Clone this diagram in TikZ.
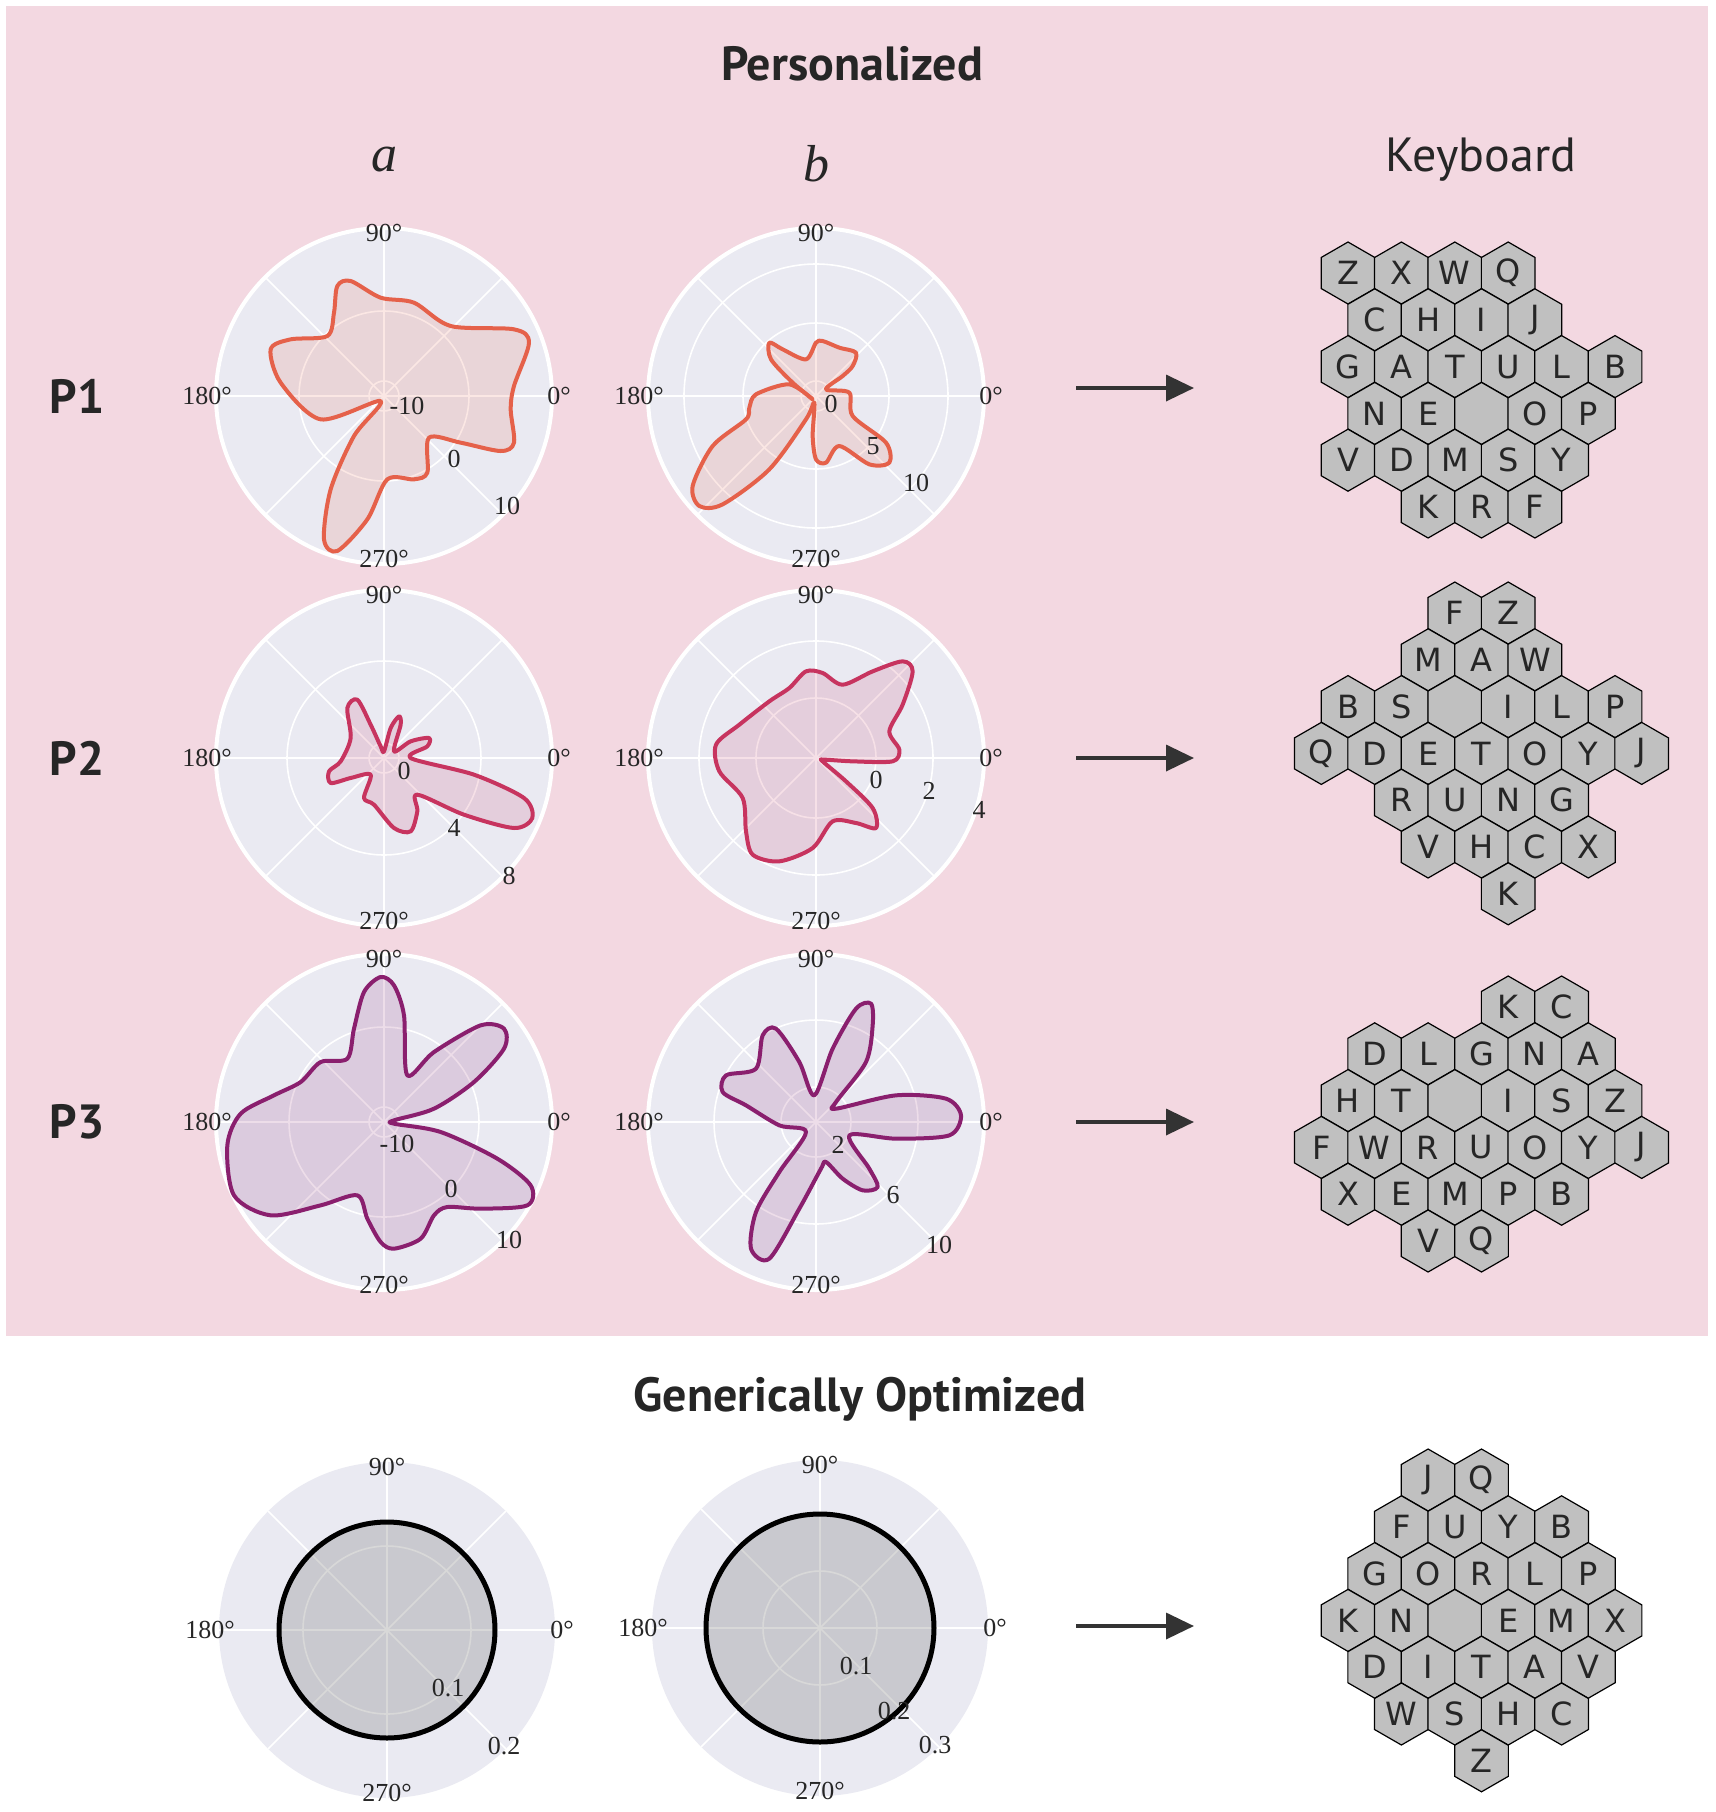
\documentclass[tikz,border=0pt]{standalone}
\usepackage{fontspec}
\setmainfont{Liberation Serif}
\newfontfamily\titlefont{PT Sans}
\newfontfamily\keyfont{DejaVu Sans}
\usetikzlibrary{shapes.geometric,arrows.meta}
\definecolor{pinkbg}{HTML}{F3D8E1}
\definecolor{axbg}{HTML}{EAEAF2}
\definecolor{cone}{HTML}{E5614A}
\definecolor{ctwo}{HTML}{C7345F}
\definecolor{cthree}{HTML}{8A1F6E}
\definecolor{keygray}{HTML}{C0C0C0}
\tikzset{
  hexkey/.style={regular polygon, regular polygon sides=6, shape border rotate=30,
    minimum size=31pt, inner sep=0pt, draw=black, line width=0.6pt, fill=keygray,
    font=\keyfont\fontsize{16}{16}\selectfont, text=black!85},
  tick/.style={font=\fontsize{13}{13}\selectfont, text=black!85, inner sep=0pt},
  rlab/.style={font=\fontsize{13}{13}\selectfont, text=black!85, inner sep=0pt},
  blob/.style={line width=2pt, line join=round},
  bigarrow/.style={line width=1.8pt, draw=black!80, -{Triangle[length=14pt,width=13pt]}},
  rowlab/.style={font=\titlefont\bfseries\fontsize{24}{24}\selectfont, text=black!85},
  coltitle/.style={font=\titlefont\fontsize{24}{24}\selectfont, text=black!85},
}
\newcommand{\polarbg}[2]{% rings, outer ring drawn?
  \fill[axbg] (0,0) circle (168);
  \foreach \a in {0,45,...,315} \draw[white, line width=0.8pt] (0,0) -- (\a:168);
  \foreach \r in {#1} \draw[white, line width=0.8pt] (0,0) circle (\r);
  #2
  \node[tick] (t90) at (0,163) {90°};
  \node[tick] (t270) at (0,-163) {270°};
  \node[tick] (t180) at (-177,0) {180°};
  \node[tick] (t0) at (175,0) {0°};
}
\begin{document}
\begin{tikzpicture}[x=0.5pt,y=-0.5pt]
\useasboundingbox (0,0) rectangle (1716,1812);
\fill[white] (0,0) rectangle (1716,1812);
\fill[pinkbg] (6,6) rectangle (1708,1336);

\node[font=\titlefont\bfseries\fontsize{24}{24}\selectfont, text=black!85] (ttl) at (852,64) {Personalized};
\node[font=\itshape\fontsize{26}{26}\selectfont, text=black!85] (ca) at (384,160) {a};
\node[font=\itshape\fontsize{26}{26}\selectfont, text=black!85] (cb) at (816,164) {b};
\node[coltitle] (ck) at (1481,160) {Keyboard};
\node[rowlab] (p1) at (77,396) {P1};
\node[rowlab] (p2) at (77,758) {P2};
\node[rowlab] (p3) at (77,1122) {P3};
\node[font=\titlefont\bfseries\fontsize{24}{24}\selectfont, text=black!85] (gen) at (860,1399) {Generically Optimized};

% ---------- P1a
\begin{scope}[shift={(384,396)}, yscale=-1]
\polarbg{15,85}{\draw[white,line width=2pt] (0,0) circle (168);}
\begin{scope}[scale=1/3]
\draw[blob, draw=cone, fill=cone, fill opacity=0.15] plot[smooth cycle] coordinates {
(-10,-15) (-190,-70) (-310,40) (-340,140) (-280,170) (-170,180) (-150,250) (-140,330) (-100,345)
(-10,295) (90,280) (200,210) (390,200) (435,160) (390,30) (380,-40) (390,-140) (350,-165)
(230,-140) (135,-125) (130,-230) (90,-250) (10,-250) (-50,-370) (-140,-465) (-180,-430) (-160,-280) (-90,-120)};
\end{scope}
\node[rlab] at (23,-10) {-10};
\node[rlab] at (70,-63) {0};
\node[rlab] at (123,-110) {10};
\end{scope}
% ---------- P1b
\begin{scope}[shift={(816,396)}, yscale=-1]
\polarbg{15,73,132}{\draw[white,line width=2pt] (0,0) circle (168);}
\begin{scope}[scale=1/3]
\draw[blob, draw=cone, fill=cone, fill opacity=0.15] plot[smooth cycle] coordinates {
(-10,-10) (-80,35) (-180,5) (-200,-35) (-210,-70) (-310,-150) (-370,-270) (-350,-330) (-280,-325)
(-140,-220) (-30,-70) (-5,-20) (-10,-120) (0,-190) (30,-200) (70,-150) (160,-205) (220,-200)
(210,-140) (110,-60) (100,10) (30,20) (80,60) (110,90) (120,130) (70,145) (20,165) (0,160)
(-30,110) (-100,140) (-140,160) (-135,110) (-70,40)};
\end{scope}
\node[rlab] at (15,-8) {0};
\node[rlab] at (57,-50) {5};
\node[rlab] at (100,-87) {10};
\end{scope}
% ---------- P2a
\begin{scope}[shift={(384,758)}, yscale=-1]
\polarbg{15,97}{\draw[white,line width=2pt] (0,0) circle (168);}
\begin{scope}[scale=1/3]
\draw[blob, draw=ctwo, fill=ctwo, fill opacity=0.15] plot[smooth cycle] coordinates {
(-10,35) (-40,100) (-80,175) (-110,150) (-100,60) (-130,-10) (-165,-40) (-160,-75) (-100,-60)
(-40,-50) (-60,-120) (-30,-140) (30,-210) (80,-220) (100,-160) (100,-110) (240,-170) (390,-210)
(445,-180) (420,-120) (270,-50) (80,0) (130,35) (135,60) (80,50) (30,20) (50,100) (45,125) (20,90) (0,20)};
\end{scope}
\node[rlab] at (20,-13) {0};
\node[rlab] at (70,-70) {4};
\node[rlab] at (125,-118) {8};
\end{scope}
% ---------- P2b
\begin{scope}[shift={(816,758)}, yscale=-1]
\polarbg{60,117}{\draw[white,line width=2pt] (0,0) circle (168);}
\begin{scope}[scale=1/3]
\draw[blob, draw=ctwo, fill=ctwo, fill opacity=0.15] plot[smooth cycle] coordinates {
(20,-10) (90,-70) (170,-150) (180,-210) (120,-195) (50,-190) (-10,-270) (-110,-310) (-190,-290)
(-210,-220) (-220,-120) (-290,-40) (-300,40) (-230,100) (-140,170) (-80,210) (-30,260) (20,255)
(80,220) (170,260) (260,290) (290,260) (260,160) (220,80) (250,25) (230,-10) (110,-10) (25,-5)};
\end{scope}
\node[rlab] at (60,-22) {0};
\node[rlab] at (113,-33) {2};
\node[rlab] at (163,-52) {4};
\end{scope}
% ---------- P3a
\begin{scope}[shift={(384,1122)}, yscale=-1]
\polarbg{15,95}{\draw[white,line width=2pt] (0,0) circle (168);}
\begin{scope}[scale=1/3]
\draw[blob, draw=cthree, fill=cthree, fill opacity=0.15] plot[smooth cycle] coordinates {
(30,-5) (170,-30) (340,-110) (440,-190) (430,-250) (290,-260) (190,-255) (150,-280) (110,-350)
(30,-380) (-10,-360) (-50,-290) (-80,-220) (-190,-250) (-340,-280) (-450,-220) (-470,-70)
(-430,25) (-330,80) (-250,120) (-190,180) (-110,190) (-90,280) (-60,390) (-10,435) (30,410)
(60,320) (70,140) (150,210) (290,290) (360,280) (360,220) (270,120) (150,40) (30,5)};
\end{scope}
\node[rlab] at (13,-22) {-10};
\node[rlab] at (67,-67) {0};
\node[rlab] at (125,-118) {10};
\end{scope}
% ---------- P3b
\begin{scope}[shift={(816,1122)}, yscale=-1]
\polarbg{35,102}{\draw[white,line width=2pt] (0,0) circle (168);}
\begin{scope}[scale=1/3]
\draw[blob, draw=cthree, fill=cthree, fill opacity=0.15] plot[smooth cycle] coordinates {
(60,40) (240,80) (390,70) (435,20) (400,-40) (240,-50) (100,-40) (160,-140) (185,-195) (140,-205)
(80,-170) (30,-120) (15,-140) (-50,-260) (-140,-410) (-195,-380) (-180,-270) (-110,-150) (-30,-30)
(-110,-10) (-210,50) (-280,90) (-270,140) (-180,160) (-160,260) (-120,280) (-50,180) (-5,80)
(50,220) (120,340) (165,355) (170,290) (150,180) (60,60)};
\end{scope}
\node[rlab] at (22,-23) {2};
\node[rlab] at (77,-73) {6};
\node[rlab] at (123,-123) {10};
\end{scope}
% ---------- Generic a
\begin{scope}[shift={(387,1630)}, yscale=-1]
\polarbg{84}{}
\draw[line width=2.5pt, fill=gray, fill opacity=0.3] (0,0) circle (108);
\node[rlab] at (61,-58) {0.1};
\node[rlab] at (117,-116) {0.2};
\end{scope}
% ---------- Generic b
\begin{scope}[shift={(820,1628)}, yscale=-1]
\polarbg{57,113}{}
\draw[line width=2.5pt, fill=gray, fill opacity=0.3] (0,0) circle (114);
\node[rlab] at (36,-38) {0.1};
\node[rlab] at (74,-83) {0.2};
\node[rlab] at (115,-117) {0.3};
\end{scope}

% ---------- arrows
\foreach \y/\n in {388/1,758/2,1122/3,1626/4}{
  \coordinate (as\n) at (1076,\y);
  \coordinate (ae\n) at (1194,\y);
  \draw[bigarrow] (as\n) -- (ae\n);
}

% ---------- keyboards
\newcommand{\kb}[3]{%
  \foreach \c/\r/\l in {#3}{
    \node[hexkey] (#1-\c-\r) at ({1348+\c*26.7},{#2+\r*46.8}) {\l};
  }}
\kb{ka}{273}{0/0/Z,2/0/X,4/0/W,6/0/Q,1/1/C,3/1/H,5/1/I,7/1/J,0/2/G,2/2/A,4/2/T,6/2/U,8/2/L,10/2/B,1/3/N,3/3/E,5/3/{},7/3/O,9/3/P,0/4/V,2/4/D,4/4/M,6/4/S,8/4/Y,3/5/K,5/5/R,7/5/F}
\kb{kb}{613}{4/0/F,6/0/Z,3/1/M,5/1/A,7/1/W,0/2/B,2/2/S,4/2/{},6/2/I,8/2/L,10/2/P,-1/3/Q,1/3/D,3/3/E,5/3/T,7/3/O,9/3/Y,11/3/J,2/4/R,4/4/U,6/4/N,8/4/G,3/5/V,5/5/H,7/5/C,9/5/X,6/6/K}
\kb{kc}{1007}{6/0/K,8/0/C,1/1/D,3/1/L,5/1/G,7/1/N,9/1/A,0/2/H,2/2/T,4/2/{},6/2/I,8/2/S,10/2/Z,-1/3/F,1/3/W,3/3/R,5/3/U,7/3/O,9/3/Y,11/3/J,0/4/X,2/4/E,4/4/M,6/4/P,8/4/B,3/5/V,5/5/Q}
\kb{kd}{1480}{3/0/J,5/0/Q,2/1/F,4/1/U,6/1/Y,8/1/B,1/2/G,3/2/O,5/2/R,7/2/L,9/2/P,0/3/K,2/3/N,4/3/{},6/3/E,8/3/M,10/3/X,1/4/D,3/4/I,5/4/T,7/4/A,9/4/V,2/5/W,4/5/S,6/5/H,8/5/C,5/6/Z}
\end{tikzpicture}
\end{document}
